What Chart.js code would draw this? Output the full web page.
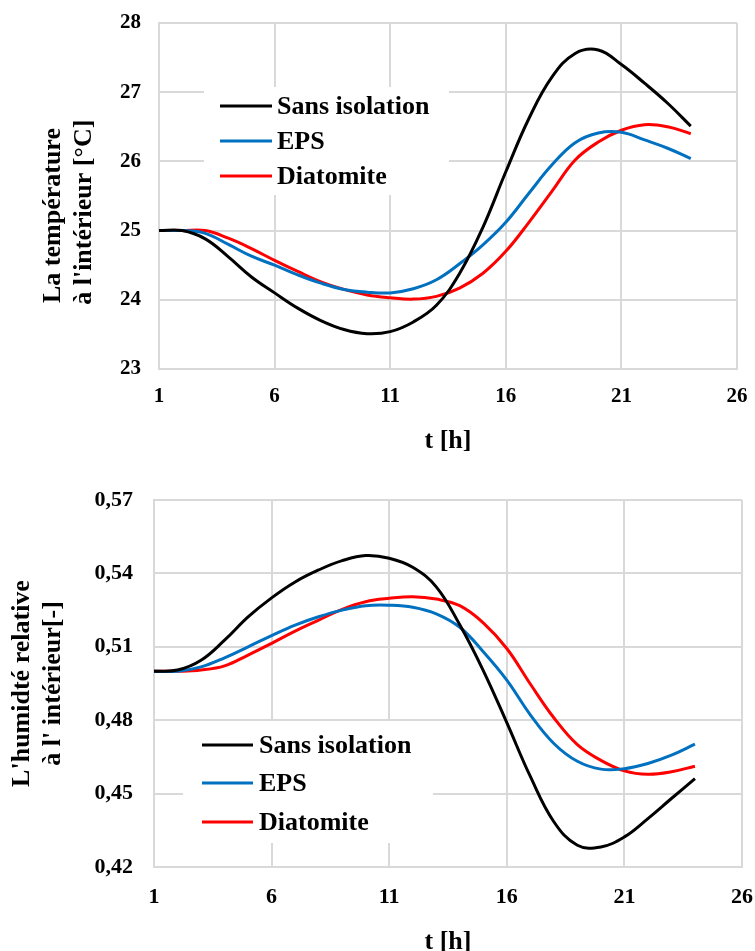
<!DOCTYPE html>
<html><head><meta charset="utf-8">
<script src="https://cdn.jsdelivr.net/npm/chart.js@4.4.1/dist/chart.umd.min.js"></script>
<style>
html,body{margin:0;padding:0;background:#fff;overflow:hidden;width:755px;height:951px;}
#c1{position:absolute;left:0;top:0;}
#c2{position:absolute;left:0;top:475px;}
</style></head><body>
<canvas id="c1" width="755" height="475"></canvas>
<canvas id="c2" width="755" height="500"></canvas>
<script>
// ---- data ----
const hours = [1,2,3,4,5,6,7,8,9,10,11,12,13,14,15,16,17,18,19,20,21,22,23,24];
const seriesNames = ['Sans isolation','EPS','Diatomite'];

const tempSans = [25.00,25.00,24.88,24.62,24.33,24.10,23.88,23.70,23.57,23.51,23.54,23.68,23.92,24.38,25.04,25.85,26.62,27.22,27.56,27.61,27.40,27.13,26.84,26.51];
const tempEPS  = [25.00,25.00,24.96,24.80,24.63,24.50,24.36,24.24,24.15,24.11,24.10,24.16,24.29,24.52,24.79,25.12,25.54,25.95,26.27,26.41,26.42,26.31,26.19,26.04];
const tempDiat = [25.00,25.00,25.00,24.89,24.74,24.57,24.41,24.26,24.15,24.07,24.03,24.01,24.05,24.17,24.38,24.70,25.12,25.57,26.02,26.28,26.45,26.53,26.50,26.40];

const rhSans = [0.5000,0.5005,0.5045,0.5127,0.5222,0.5300,0.5365,0.5414,0.5452,0.5473,0.5462,0.5425,0.5345,0.5190,0.5003,0.4790,0.4570,0.4385,0.4289,0.4282,0.4323,0.4398,0.4480,0.4561];
const rhEPS  = [0.5000,0.5000,0.5018,0.5055,0.5100,0.5146,0.5189,0.5223,0.5250,0.5268,0.5270,0.5262,0.5235,0.5180,0.5080,0.4964,0.4822,0.4705,0.4632,0.4600,0.4602,0.4623,0.4657,0.4702];
const rhDiat = [0.5000,0.5000,0.5005,0.5022,0.5066,0.5114,0.5164,0.5209,0.5253,0.5284,0.5298,0.5305,0.5295,0.5268,0.5198,0.5093,0.4948,0.4810,0.4700,0.4636,0.4593,0.4579,0.4589,0.4612];

const xTicks = [1,6,11,16,21,26];
const tempTicks = [23,24,25,26,27,28];
const rhTicks = [0.42,0.45,0.48,0.51,0.54,0.57];

const xTitle = 't [h]';
const tempTitle = ['La température', "à l'intérieur [°C]"];
const rhTitle = ["L'humidté relative", "à l' intérieur[-]"];

// ---- styles ----
const lineColors = ['#000000','#0070C0','#FF0000'];
const FONT = '"Liberation Serif", "Times New Roman", serif';
const GRID = '#d9d9d9';

const boxLegend = {
  id: 'boxLegend',
  beforeDatasetsDraw(chart, args, o) {
    const ctx = chart.ctx;
    ctx.save();
    ctx.fillStyle = '#fff';
    ctx.fillRect(o.box[0], o.box[1], o.box[2], o.box[3]);
    ctx.font = 'bold 26px ' + FONT;
    ctx.textBaseline = 'middle';
    ctx.textAlign = 'left';
    chart.data.datasets.forEach((ds, i) => {
      const y = o.rows[i];
      ctx.strokeStyle = ds.borderColor;
      ctx.lineWidth = 3;
      ctx.beginPath();
      ctx.moveTo(o.lineX[0], y);
      ctx.lineTo(o.lineX[1], y);
      ctx.stroke();
      ctx.fillStyle = '#000';
      ctx.fillText(ds.label, o.textX, y + 1);
    });
    ctx.restore();
  }
};

function makeDatasets(series) {
  return series.map((vals, i) => ({
    label: seriesNames[i],
    data: hours.map((h, k) => ({x: h, y: vals[k]})),
    borderColor: lineColors[i],
    backgroundColor: lineColors[i],
    borderWidth: 3,
    pointRadius: 0,
    tension: 0.4,
    fill: false
  }));
}

function makeChart(id, cfg) {
  return new Chart(document.getElementById(id), {
    type: 'line',
    data: {datasets: makeDatasets(cfg.series)},
    plugins: [boxLegend],
    options: {
      responsive: false,
      animation: false,
      layout: {padding: cfg.padding},
      plugins: {
        legend: {display: false},
        tooltip: {enabled: false},
        boxLegend: cfg.legend
      },
      scales: {
        x: {
          type: 'linear', min: 1, max: 26,
          afterBuildTicks: s => { s.ticks = xTicks.map(v => ({value: v})); },
          afterFit: s => { s.height = cfg.xHeight; s.paddingLeft = 0; s.paddingRight = 0; },
          grid: {color: GRID, lineWidth: 2, drawTicks: false},
          border: {color: GRID, width: 2},
          ticks: {color: '#000', font: {family: FONT, weight: 'bold', size: cfg.tickSize}, padding: cfg.xTickPad, maxRotation: 0},
          title: {display: true, text: xTitle, color: '#000', font: {family: FONT, weight: 'bold', size: 26}, padding: {top: 0, bottom: cfg.xTitlePad}}
        },
        y: {
          type: 'linear', min: cfg.yTicks[0], max: cfg.yTicks[cfg.yTicks.length - 1],
          afterBuildTicks: s => { s.ticks = cfg.yTicks.map(v => ({value: v})); },
          afterFit: s => { s.width = cfg.yWidth; s.paddingTop = 0; s.paddingBottom = 0; },
          grid: {color: GRID, lineWidth: 2, drawTicks: false},
          border: {color: GRID, width: 2},
          ticks: {color: '#000', font: {family: FONT, weight: 'bold', size: cfg.tickSize}, padding: cfg.yTickPad, callback: cfg.fmt},
          title: {display: true, text: cfg.yTitle, color: '#000', font: {family: FONT, weight: 'bold', size: 26, lineHeight: 1.22}, padding: {top: cfg.yTitlePad, bottom: 0}}
        }
      }
    }
  });
}

const nb = '\u00a0';
makeChart('c1', {
  series: [tempSans, tempEPS, tempDiat],
  padding: {left: 0, right: 18, top: 23, bottom: 0},
  xHeight: 106, yWidth: 159,
  tickSize: 21, xTickPad: 15, yTickPad: 18,
  xTitlePad: 18,
  yTitlePad: 37,
  yTicks: tempTicks,
  yTitle: [tempTitle[0] + nb.repeat(6), tempTitle[1] + nb.repeat(5)],
  fmt: v => String(v),
  legend: {box: [204, 87, 245, 108], lineX: [220, 272], textX: 277, rows: [106, 141, 176]}
});

makeChart('c2', {
  series: [rhSans, rhEPS, rhDiat],
  padding: {left: 0, right: 13, top: 25, bottom: 0},
  xHeight: 108, yWidth: 154,
  tickSize: 22, xTickPad: 17, yTickPad: 21,
  xTitlePad: 17,
  yTitlePad: 6,
  yTicks: rhTicks,
  yTitle: rhTitle,
  fmt: v => v.toFixed(2).replace('.', ','),
  legend: {box: [183, 246, 250, 122], lineX: [202, 253], textX: 259, rows: [270, 308, 347]}
});
</script>
</body></html>
